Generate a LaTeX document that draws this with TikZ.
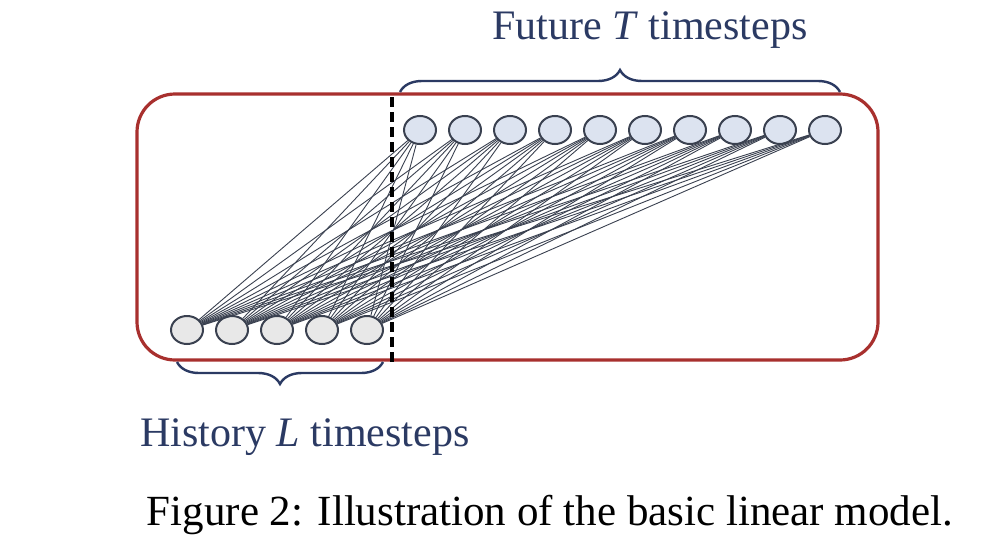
\documentclass[tikz,border=0pt]{standalone}
\usetikzlibrary{decorations.pathreplacing,shapes.geometric}
\usepackage{fontspec}
\setmainfont{Liberation Serif}
\definecolor{navy}{HTML}{2B3A63}
\definecolor{redb}{HTML}{A8302E}
\definecolor{edge}{HTML}{3A4150}
\definecolor{topfill}{HTML}{DCE3F0}
\begin{document}
\begin{tikzpicture}[x=1pt,y=-1pt,
  nd/.style={ellipse,draw=edge,line width=2pt,minimum width=32pt,minimum height=28pt,inner sep=0pt},
  bn/.style={nd,fill=gray!18},
  tn/.style={nd,fill=topfill},
  con/.style={edge,line width=0.9pt},
  br/.style={navy,line width=2.4pt,decorate,decoration={brace,amplitude=22pt}},
  lab/.style={navy,font=\fontsize{42}{44}\selectfont}]
\useasboundingbox (0,0) rectangle (990,554);
\draw[redb,line width=3.2pt,rounded corners=38pt] (137,94) rectangle (878,360);
\foreach \i in {1,...,5} \node[bn] (b\i) at ({187+45*(\i-1)},330) {};
\foreach \j in {1,...,10} \node[tn] (t\j) at ({420+45*(\j-1)},130) {};
\foreach \i in {1,...,5} \foreach \j in {1,...,10} \draw[con] (b\i) -- (t\j);
\draw[black,line width=3.2pt,dash pattern=on 10pt off 5pt] (392,97) -- (392,362);
\draw[br] (400,92) -- (840,92);
\draw[br] (383,362) -- (177,362);
\node[lab] (fut) at (650,30) {Future \textit{T} timesteps};
\node[lab] (his) at (305,437) {History \textit{L} timesteps};
\node[font=\fontsize{43}{45}\selectfont] (cap) at (550,515) {Figure 2: Illustration of the basic linear model.};
\end{tikzpicture}
\end{document}
